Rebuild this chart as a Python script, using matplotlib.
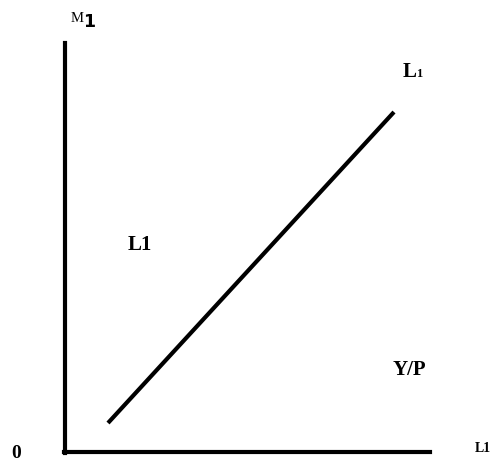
import matplotlib.pyplot as plt

# Diagram values (units: pixels measured from the origin of the axes)
axis_x_len = 364.5
axis_y_len = 408.5
curve_x = [42.5, 328.5]
curve_y = [28.5, 339.5]

# labels: (text, x, y, size, family, weight)
labels = [
    ('L1', 62.5, 201.5, 15, 'Liberation Serif', 'bold'),
    ('L', 337.5, 374.5, 15, 'Liberation Serif', 'bold'),
    ('1', 350.5, 374.5, 9, 'Liberation Serif', 'bold'),
    ('Y/P', 327.5, 76.5, 15, 'Liberation Serif', 'bold'),
    ('0', -54.5, -6.5, 14, 'Liberation Serif', 'bold'),
    ('L1', 409.5, -0.5, 10, 'Liberation Serif', 'bold'),
    ('M', 5.0, 429.5, 10.5, 'Liberation Serif', 'normal'),
    ('1', 18.0, 424.5, 12.5, 'DejaVu Sans', 'bold'),
]

fig = plt.figure(figsize=(4.91, 4.61), dpi=100)
ax = fig.add_axes([0, 0, 1, 1])
ax.set_xlim(-65.5, 425.5)
ax.set_ylim(-9.5, 451.5)

# axes drawn as spines through the origin
for side in ['top', 'right']:
    ax.spines[side].set_visible(False)
ax.spines['left'].set_position(('data', 0))
ax.spines['bottom'].set_position(('data', 0))
ax.spines['left'].set_bounds(-1.5, axis_y_len)
ax.spines['bottom'].set_bounds(-1.5, axis_x_len)
ax.spines['left'].set_linewidth(3)
ax.spines['bottom'].set_linewidth(3)
ax.set_xticks([])
ax.set_yticks([])

# the L1 line
ax.plot(curve_x, curve_y, color='black', linewidth=3, solid_capstyle='butt')

for txt, x, y, size, fam, weight in labels:
    ax.text(x, y, txt, fontsize=size, family=fam, fontweight=weight,
            ha='left', va='baseline', color='black')

fig.savefig('out.png', dpi=100, facecolor='white')
